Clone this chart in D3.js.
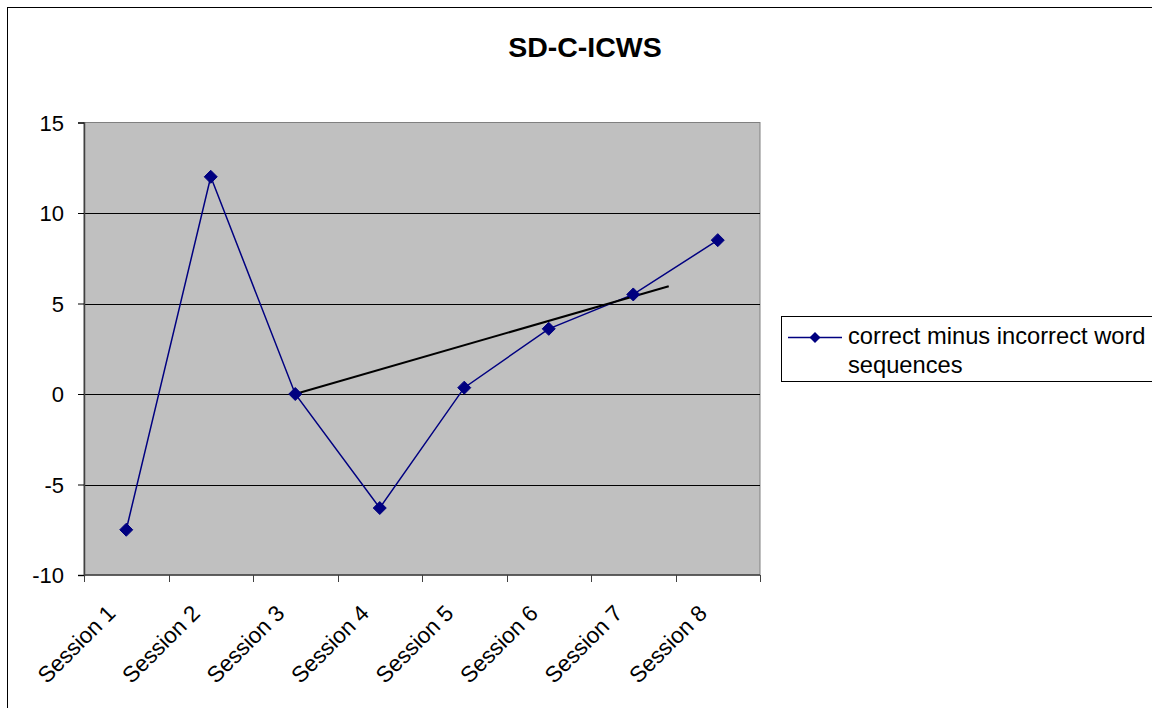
<!DOCTYPE html>
<html>
<head>
<meta charset="utf-8">
<script src="https://cdn.jsdelivr.net/npm/d3@7"></script>
<style>
  html, body { margin: 0; padding: 0; background: #fff; }
  svg { display: block; font-family: "Liberation Sans", Arial, sans-serif; }
</style>
</head>
<body>
<svg id="chart" width="1152" height="708"></svg>
<script>
// ---- data ----
const categories = ["Session 1", "Session 2", "Session 3", "Session 4", "Session 5", "Session 6", "Session 7", "Session 8"];
const values = [-7.5, 12, 0, -6.3, 0.35, 3.6, 5.5, 8.5];
const yTicks = [-10, -5, 0, 5, 10, 15];
const trendSession = [3, 7.42];   // session position (1-based) of trend line ends
const trendValue = [0, 5.95];
const seriesName = "correct minus incorrect word";
const seriesName2 = "sequences";
const title = "SD-C-ICWS";

// ---- layout ----
const svg = d3.select("#chart");
const plot = { left: 84, top: 122.5, right: 760, bottom: 575 };

// outer chart border
svg.append("rect").attr("x", 7.5).attr("y", 7.5).attr("width", 1200).attr("height", 760)
  .attr("fill", "#fff").attr("stroke", "#000").attr("stroke-width", 1);

const x = d3.scaleBand().domain(categories).range([plot.left, plot.right]).padding(0);
const xPos = d3.scaleLinear().domain([0.5, categories.length + 0.5]).range([plot.left, plot.right]);
const y = d3.scaleLinear().domain([-10, 15]).range([plot.bottom, plot.top]);

// plot area
svg.append("rect").attr("x", plot.left).attr("y", plot.top)
  .attr("width", plot.right - plot.left).attr("height", plot.bottom - plot.top)
  .attr("fill", "#C0C0C0").attr("stroke", "#808080").attr("stroke-width", 1);

// gridlines
svg.append("g").selectAll("line").data(yTicks.filter(t => t > -10 && t < 15)).join("line")
  .attr("x1", plot.left).attr("x2", plot.right)
  .attr("y1", d => Math.round(y(d)) + 0.5).attr("y2", d => Math.round(y(d)) + 0.5)
  .attr("stroke", "#000").attr("stroke-width", 1);

// y axis
const yAxis = svg.append("g").attr("transform", `translate(${plot.left},0)`)
  .call(d3.axisLeft(y).tickValues(yTicks).tickSize(6).tickPadding(14).tickFormat(d => String(d)));
yAxis.select(".domain").attr("stroke", "#404040").attr("stroke-width", 1.5);
yAxis.selectAll(".tick line").attr("stroke", "#000");
yAxis.selectAll("text").attr("font-size", 22).attr("fill", "#000")
  .attr("font-family", "'Liberation Sans', Arial, sans-serif").attr("dy", "0.36em");

// x axis (ticks at category boundaries)
const boundaries = d3.range(categories.length + 1).map(i => plot.left + i * x.bandwidth());
const xAxisG = svg.append("g");
xAxisG.append("line").attr("x1", plot.left).attr("x2", plot.right)
  .attr("y1", plot.bottom).attr("y2", plot.bottom).attr("stroke", "#404040").attr("stroke-width", 1.5);
xAxisG.selectAll("line.tk").data(boundaries).join("line").attr("class", "tk")
  .attr("x1", d => Math.round(d) + 0.5).attr("x2", d => Math.round(d) + 0.5)
  .attr("y1", plot.bottom).attr("y2", plot.bottom + 7).attr("stroke", "#404040").attr("stroke-width", 1);
xAxisG.selectAll("text").data(categories).join("text")
  .attr("transform", d => `translate(${x(d) + x.bandwidth() / 2 - 15},${plot.bottom + 34}) rotate(-45)`)
  .attr("text-anchor", "end").attr("dy", "0.35em")
  .attr("font-size", 22.5).attr("fill", "#000").text(d => d);

// series line
const line = d3.line().x((d, i) => x(categories[i]) + x.bandwidth() / 2).y(d => y(d));
svg.append("path").datum(values).attr("d", line)
  .attr("fill", "none").attr("stroke", "#000080").attr("stroke-width", 1.5);

// trend line
svg.append("line")
  .attr("x1", xPos(trendSession[0])).attr("y1", y(trendValue[0]))
  .attr("x2", xPos(trendSession[1])).attr("y2", y(trendValue[1]))
  .attr("stroke", "#000").attr("stroke-width", 2);

// markers
function diamondPath(s) {
  return `M0,${-s}L${s},0L0,${s}L${-s},0Z`;
}
svg.append("g").selectAll("path").data(values).join("path")
  .attr("transform", (d, i) => `translate(${x(categories[i]) + x.bandwidth() / 2},${y(d)})`)
  .attr("d", diamondPath(6.5)).attr("fill", "#000080").attr("stroke", "#000080").attr("stroke-width", 1);

// title
svg.append("text").attr("x", 585).attr("y", 57).attr("text-anchor", "middle")
  .attr("font-size", 28.5).attr("font-weight", "bold").attr("fill", "#000").text(title);

// legend
const lg = svg.append("g");
lg.append("rect").attr("x", 781.5).attr("y", 316.5).attr("width", 400).attr("height", 65)
  .attr("fill", "#fff").attr("stroke", "#000").attr("stroke-width", 1);
lg.append("line").attr("x1", 788).attr("x2", 842).attr("y1", 337.5).attr("y2", 337.5)
  .attr("stroke", "#000080").attr("stroke-width", 1.5);
lg.append("path").attr("transform", "translate(815,337.5)").attr("d", diamondPath(5.5))
  .attr("fill", "#000080");
lg.append("text").attr("x", 848).attr("y", 344).attr("font-size", 23.7).attr("fill", "#000").text(seriesName);
lg.append("text").attr("x", 848).attr("y", 373).attr("font-size", 23.7).attr("fill", "#000").text(seriesName2);
</script>
</body>
</html>
